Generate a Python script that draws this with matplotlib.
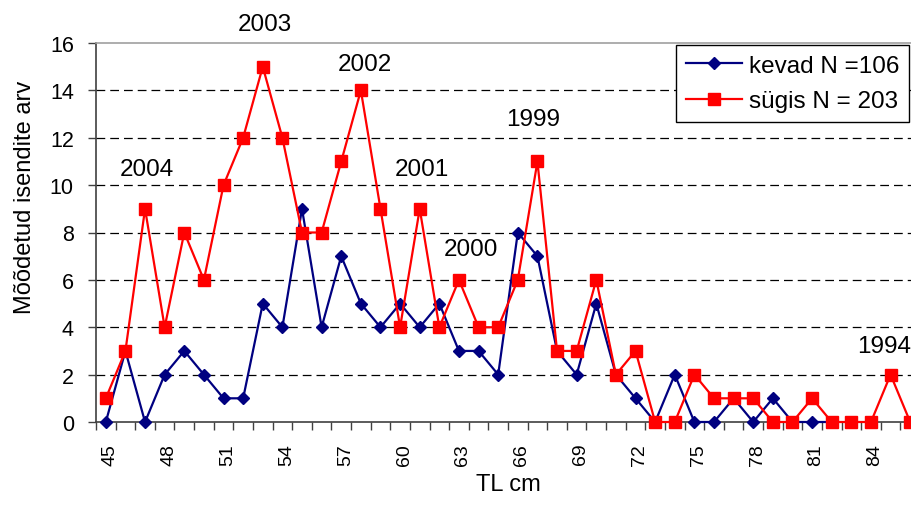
import matplotlib
matplotlib.use("Agg")
import matplotlib.pyplot as plt
from matplotlib.ticker import FixedLocator
from matplotlib.transforms import ScaledTranslation

plt.rcParams['font.family'] = ['Liberation Sans', 'DejaVu Sans']

tl_spring = list(range(45, 83))
kevad = [0, 3, 0, 2, 3, 2, 1, 1, 5, 4,
         9, 4, 7, 5, 4, 5, 4, 5, 3, 3,
         2, 8, 7, 3, 2, 5, 2, 1, 0, 2,
         0, 0, 1, 0, 1, 0, 0, 0]
tl_autumn = list(range(45, 87))
sugis = [1, 3, 9, 4, 8, 6, 10, 12, 15, 12,
         8, 8, 11, 14, 9, 4, 9, 4, 6, 4,
         4, 6, 11, 3, 3, 6, 2, 3, 0, 0,
         2, 1, 1, 1, 0, 0, 1, 0, 0, 0,
         2, 0]
xtick_labels = [45, 48, 51, 54, 57, 60, 63, 66, 69, 72, 75, 78, 81, 84]
year_labels = ["2003", "2002", "2004", "2001", "2000", "1999", "1994"]
year_pos = [(53.1, 16.8), (58.2, 15.1), (47.1, 10.67), (61.1, 10.67),
            (63.6, 7.3), (66.8, 12.8), (84.65, 3.2)]

W, H = 912, 506
fig = plt.figure(figsize=(W / 100, H / 100), dpi=100)
left, right, bottom, top = 96, 920, 423, 44
ax = fig.add_axes([left / W, (H - bottom) / H, (right - left) / W, (bottom - top) / H])

ax.set_xlim(44.5, 86.5)
ax.set_ylim(0, 16)

for y in range(2, 16, 2):
    ax.axhline(y, color='black', lw=0.9, linestyle=(0, (7, 4)), zorder=1)

ax.plot(tl_spring, kevad, color='#000080', lw=1.6, marker='D', ms=6.4,
        markerfacecolor='#000080', markeredgecolor='#000080',
        label='kevad N =106', zorder=3, clip_on=False)
ax.plot(tl_autumn, sugis, color='#FF0000', lw=1.6, marker='s', ms=9.2,
        markerfacecolor='#FF0000', markeredgecolor='#FF0000',
        label='sügis N = 203', zorder=4, clip_on=False)

for lab, (xx, yy) in zip(year_labels, year_pos):
    ax.text(xx, yy, lab, fontsize=17.5, ha='center', va='center', color='black',
            clip_on=False)

ax.xaxis.set_major_locator(FixedLocator(xtick_labels))
ax.set_xticklabels([str(v) for v in xtick_labels], rotation=90)
ax.xaxis.set_minor_locator(FixedLocator([44.5 + i for i in range(43)]))
ax.tick_params(axis='x', which='major', length=0, pad=15, labelsize=14)
ax.tick_params(axis='x', which='minor', length=6, width=1, color='#404040', direction='out')
ax.set_yticks(range(0, 17, 2))
ax.set_yticklabels([str(v) for v in range(0, 17, 2)])
ax.tick_params(axis='y', length=6, width=1, color='#404040', direction='out', pad=10,
               labelsize=15.5)

ax.spines['left'].set_color('#404040')
ax.spines['bottom'].set_color('#404040')
ax.spines['left'].set_linewidth(1.2)
ax.spines['bottom'].set_linewidth(1.2)
ax.spines['top'].set_color('#A0A0A0')
ax.spines['top'].set_linewidth(1.2)
ax.spines['right'].set_visible(False)

ax.set_xlabel('TL cm', fontsize=17, labelpad=6)
ax.set_ylabel('Mõõdetud isendite arv', fontsize=17)
ax.yaxis.set_label_coords(36 / W, (H - 197) / H, transform=fig.transFigure)

leg = ax.legend(loc='upper left', bbox_to_anchor=(676 / W, (H - 46) / H),
                bbox_transform=fig.transFigure, fontsize=17.5, frameon=True,
                fancybox=False, edgecolor='black', framealpha=1,
                handlelength=2.3, labelspacing=0.55, borderpad=0.4,
                handletextpad=0.3, borderaxespad=0)
leg.get_frame().set_linewidth(1.0)

fig.canvas.draw()
offset = ScaledTranslation(4 / 100, 0, fig.dpi_scale_trans)
for tick in ax.xaxis.get_major_ticks():
    tick.label1.set_transform(tick.label1.get_transform() + offset)

fig.savefig('out.png', dpi=100)
